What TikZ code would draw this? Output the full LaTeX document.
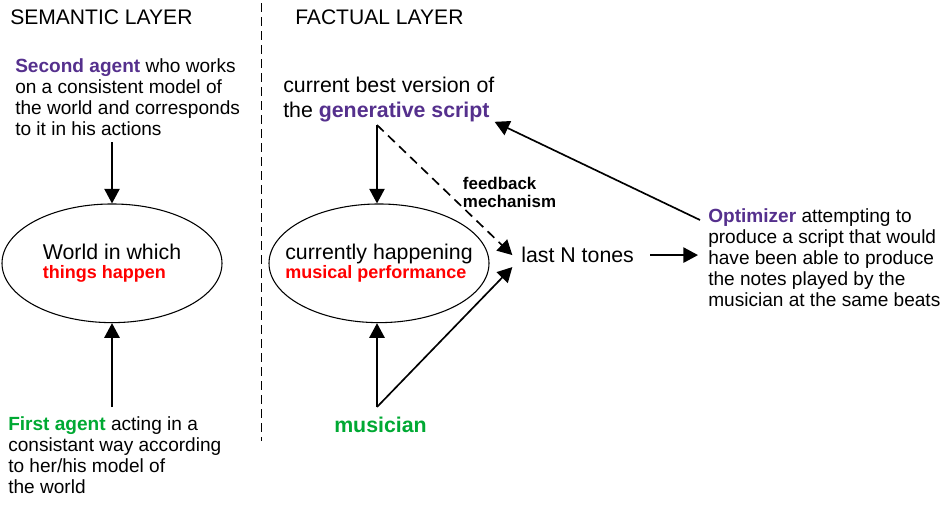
\documentclass[tikz,border=0pt]{standalone}
\usepackage{fontspec}
\setmainfont{Liberation Sans}
\usepackage{xcolor}
\usetikzlibrary{shapes.geometric}
\usetikzlibrary{arrows.meta}
\definecolor{agentpurple}{HTML}{55308D}
\definecolor{agentgreen}{HTML}{00A933}

\begin{document}
\begin{tikzpicture}[x=0.75pt, y=-0.75pt,
	every node/.style={inner sep=0pt},
	title/.style={anchor=base west, font=\fontsize{15.8}{19}\selectfont},
	note/.style={anchor=north west, align=left, font=\fontsize{14.3}{15.8}\selectfont},
	bubble/.style={ellipse, draw, line width=0.8pt, inner xsep=-14pt, minimum width=165pt, minimum height=89pt, align=left},
	arr/.style={-{Triangle[length=11pt, width=11.5pt]}, line width=1.25pt}]
	\useasboundingbox (0,0) rectangle (950,526);
	\node[title](semantic) at (10,24.3){SEMANTIC LAYER};
	\node[title](factual) at (295,24.3){FACTUAL LAYER};
	\draw[line width=1.25pt, dash pattern=on 6.5pt off 4pt] (261.5,3) -- (261.5,441);
	\node[note](second) at (15,58.7){{\color{agentpurple}\bfseries Second agent} who works\\on a consistent model of\\the world and corresponds\\to it in his actions};
	\node[bubble, font=\fontsize{16}{14.5}\selectfont](world) at (112,263.3){World in which\\{\color{red}\bfseries\fontsize{13.5}{14.5}\selectfont things happen}};
	\node[note](first) at (8,416.4){{\color{agentgreen}\bfseries First agent} acting in a\\consistant way according\\to her/his model of\\the world};
	\node[note, font=\fontsize{16}{18.3}\selectfont](script) at (283,76.9){current best version of\\the {\color{agentpurple}\bfseries generative script}};
	\node[bubble, font=\fontsize{16}{14.3}\selectfont](perf) at (379,263.3){currently happening\\{\color{red}\bfseries\fontsize{13.5}{14.3}\selectfont musical performance}};
	\node[note, font=\bfseries\fontsize{12.7}{13.7}\selectfont](feedback) at (462.7,176.9){feedback\\mechanism};
	\node[anchor=base west, font=\fontsize{16}{18}\selectfont](tones) at (521,262.7){last N tones};
	\node[note](optim) at (708,208.4){{\color{agentpurple}\bfseries Optimizer} attempting to\\produce a script that would\\have been able to produce\\the notes played by the\\musician at the same beats};
	\node[anchor=base, font=\bfseries\fontsize{16}{18}\selectfont, text=agentgreen](musician) at (380.5,432){musician};
	\coordinate (scriptfork) at (377,125);
	\coordinate (musicfork) at (377,407);
	\draw[arr, shorten <=4.5pt] (world.north |- second.south) -- (world.north);
	\draw[arr, shorten <=7pt] (world.south |- first.north) -- (world.south);
	\draw[arr] (scriptfork) -- (scriptfork |- perf.north);
	\draw[arr, dash pattern=on 7pt off 4.5pt] (scriptfork) -- ([xshift=-6.5pt]tones.west);
	\draw[arr] (musicfork) -- (musicfork |- perf.south);
	\draw[arr] (musicfork) -- ([xshift=-6.5pt, yshift=-9pt]tones.west);
	\draw[arr, shorten <=12pt, shorten >=7.5pt] (tones.east) -- (tones.east -| optim.west);
	\draw[arr] ([shift={(-6pt,-8.7pt)}]optim.north west) -- (script.south east);
\end{tikzpicture}
\end{document}
